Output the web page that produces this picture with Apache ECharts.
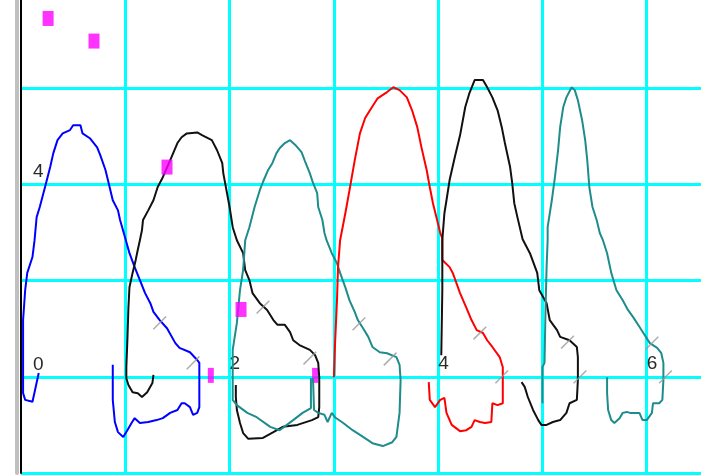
<!DOCTYPE html>
<html>
<head>
<meta charset="utf-8">
<style>
  html, body { margin: 0; padding: 0; background: #fff; }
  #chart { width: 701px; height: 476px; }
</style>
<script src="https://cdn.jsdelivr.net/npm/echarts@6/dist/echarts.min.js"></script>
</head>
<body>
<div id="chart"></div>
<script>
// curve traces, [x, y] in axis units (one loop per array)
const blueLoop = [[0.17,0.08],[0.13,-0.32],[0.11,-0.52],[0.04,-0.48],[0.02,-0.34],[0.02,0.76],[0.02,1.18],[0.04,1.80],[0.06,2.16],[0.11,2.49],[0.13,2.84],[0.15,3.32],[0.18,3.53],[0.23,3.94],[0.28,4.36],[0.31,4.65],[0.35,4.92],[0.40,5.06],[0.47,5.13],[0.50,5.23],[0.57,5.23],[0.59,5.06],[0.66,4.96],[0.73,4.77],[0.76,4.61],[0.81,4.30],[0.85,3.94],[0.88,3.67],[0.93,3.46],[0.95,3.26],[1.00,2.88],[1.04,2.57],[1.09,2.28],[1.14,2.01],[1.19,1.74],[1.24,1.53],[1.27,1.35],[1.33,1.18],[1.40,1.01],[1.48,0.70],[1.52,0.60],[1.62,0.51],[1.69,0.35],[1.71,0.29],[1.71,-0.63],[1.69,-0.75],[1.65,-0.79],[1.62,-0.63],[1.57,-0.55],[1.54,-0.55],[1.50,-0.69],[1.43,-0.75],[1.36,-0.86],[1.30,-0.90],[1.22,-0.94],[1.14,-0.96],[1.09,-0.86],[1.06,-0.96],[1.02,-1.11],[0.98,-1.25],[0.93,-1.15],[0.90,-0.94],[0.88,-0.48],[0.88,0.25]];

const blackLoop1 = [[1.27,0.04],[1.26,-0.13],[1.21,-0.32],[1.16,-0.42],[1.12,-0.34],[1.07,-0.32],[1.03,-0.17],[1.01,-0.03],[1.01,0.20],[1.02,0.76],[1.03,1.44],[1.04,1.86],[1.07,2.16],[1.10,2.43],[1.12,2.64],[1.14,2.84],[1.16,3.05],[1.17,3.26],[1.22,3.46],[1.27,3.67],[1.31,3.94],[1.36,4.15],[1.43,4.50],[1.50,4.86],[1.54,4.98],[1.59,5.06],[1.69,5.08],[1.74,5.02],[1.83,4.92],[1.88,4.71],[1.93,4.44],[1.94,4.23],[1.97,3.88],[2.00,3.53],[2.03,3.11],[2.07,2.84],[2.13,2.57],[2.15,2.22],[2.19,2.01],[2.22,1.74],[2.29,1.53],[2.36,1.39],[2.42,1.18],[2.46,1.08],[2.53,1.08],[2.58,0.93],[2.61,0.76],[2.67,0.66],[2.77,0.56],[2.82,0.45],[2.85,0.29],[2.86,-0.01],[2.86,-0.63],[2.85,-0.84],[2.79,-0.90],[2.65,-1.00],[2.51,-1.04],[2.42,-1.15],[2.32,-1.27],[2.18,-1.29],[2.13,-1.17],[2.10,-0.96],[2.07,-0.69],[2.06,-0.42],[2.06,-0.17]];

const tealLoop1 = [[2.78,-0.03],[2.78,-0.65],[2.70,-0.75],[2.61,-0.90],[2.48,-1.11],[2.39,-1.04],[2.26,-0.84],[2.17,-0.75],[2.07,-0.59],[2.03,-0.48],[2.03,0.56],[2.07,1.12],[2.10,1.80],[2.13,2.22],[2.15,2.84],[2.19,3.11],[2.24,3.53],[2.29,3.88],[2.32,4.05],[2.37,4.30],[2.41,4.44],[2.45,4.65],[2.48,4.75],[2.53,4.86],[2.58,4.92],[2.63,4.82],[2.69,4.67],[2.72,4.50],[2.77,4.23],[2.80,4.03],[2.84,3.82],[2.85,3.53],[2.89,3.26],[2.91,2.99],[2.93,2.84],[2.98,2.57],[3.03,2.36],[3.06,2.16],[3.11,1.86],[3.15,1.59],[3.20,1.35],[3.23,1.18],[3.28,1.01],[3.33,0.83],[3.37,0.62],[3.44,0.51],[3.51,0.49],[3.60,0.41],[3.63,0.25],[3.64,-0.07],[3.63,-0.75],[3.60,-1.25],[3.56,-1.36],[3.47,-1.44],[3.37,-1.38],[3.28,-1.25],[3.18,-1.11],[3.09,-0.96],[3.01,-0.84],[2.98,-0.75],[2.94,-0.94],[2.91,-0.79],[2.85,-0.75],[2.81,-0.69],[2.80,-0.03]];

const redLoop = [[3.91,-0.11],[3.92,-0.48],[3.97,-0.63],[4.02,-0.48],[4.06,-0.44],[4.08,-0.75],[4.13,-1.00],[4.21,-1.13],[4.27,-1.11],[4.32,-1.04],[4.35,-0.90],[4.40,-0.94],[4.45,-0.96],[4.51,-0.94],[4.52,-0.55],[4.57,-0.59],[4.62,-0.55],[4.62,0.20],[4.59,0.41],[4.52,0.62],[4.47,0.76],[4.43,0.91],[4.37,0.97],[4.32,1.18],[4.27,1.44],[4.21,1.74],[4.14,2.16],[4.11,2.28],[4.04,2.43],[4.04,2.88],[4.02,2.99],[3.99,3.26],[3.95,3.61],[3.92,3.94],[3.89,4.30],[3.84,4.77],[3.80,5.19],[3.75,5.54],[3.70,5.81],[3.63,5.96],[3.57,6.02],[3.51,5.92],[3.42,5.79],[3.36,5.59],[3.30,5.38],[3.25,5.06],[3.20,4.50],[3.15,3.88],[3.11,3.40],[3.06,2.84],[3.04,2.28],[3.03,1.59],[3.01,0.62],[3.00,-0.01]];

const blackLoop2 = [[4.03,0.45],[4.04,1.80],[4.04,2.84],[4.06,3.40],[4.08,3.67],[4.11,4.09],[4.16,4.57],[4.21,5.02],[4.26,5.61],[4.30,5.90],[4.35,6.17],[4.43,6.17],[4.47,6.02],[4.52,5.81],[4.57,5.54],[4.61,5.19],[4.64,4.86],[4.69,4.36],[4.71,4.03],[4.73,3.61],[4.76,3.32],[4.81,2.86],[4.88,2.57],[4.95,2.16],[4.97,1.80],[5.04,1.53],[5.07,1.18],[5.14,0.97],[5.17,0.83],[5.26,0.76],[5.33,0.62],[5.34,0.41],[5.34,-0.07],[5.33,-0.48],[5.26,-0.55],[5.23,-0.75],[5.17,-0.90],[5.10,-0.94],[5.04,-1.00],[4.99,-1.00],[4.96,-0.90],[4.91,-0.69],[4.86,-0.42],[4.83,-0.21],[4.80,-0.11]];

const tealLoop2 = [[5.00,-0.55],[5.00,0.20],[5.02,0.29],[5.03,1.44],[5.04,2.28],[5.05,2.84],[5.05,3.11],[5.09,3.67],[5.12,4.15],[5.15,4.71],[5.17,5.19],[5.20,5.61],[5.23,5.81],[5.28,6.02],[5.31,5.96],[5.34,5.75],[5.38,5.34],[5.41,4.92],[5.43,4.50],[5.45,3.94],[5.48,3.53],[5.52,3.26],[5.55,2.99],[5.58,2.84],[5.62,2.57],[5.66,2.16],[5.71,1.80],[5.77,1.59],[5.82,1.39],[5.87,1.24],[5.93,1.04],[5.98,0.87],[6.03,0.70],[6.10,0.60],[6.14,0.49],[6.16,0.29],[6.16,-0.07],[6.15,-0.48],[6.12,-0.55],[6.06,-0.55],[6.05,-0.75],[6.00,-0.90],[5.96,-0.90],[5.93,-0.75],[5.84,-0.75],[5.81,-0.73],[5.77,-0.75],[5.74,-0.86],[5.69,-0.96],[5.66,-0.90],[5.63,-0.69],[5.62,-0.34],[5.62,-0.01]];

// magenta markers
const magentaBoxes = [[0.26,7.45],[0.70,6.98],[1.40,4.36],[2.11,1.40]];
const magentaBars = [[1.82,0.03],[2.82,0.03]];

// grey slash marks on the falling side of each loop
const slashMarks = [[1.33,1.12],[1.65,0.29],[2.32,1.45],[2.77,0.39],[3.24,1.10],[3.54,0.37],[4.40,0.91],[4.61,0.0],[5.24,0.72],[5.36,0.0],[6.05,0.70],[6.18,0.0]];

// tick labels that are printed
const xTickLabels = [2, 4, 6];
const yTickLabels = [0, 4];

const loops = [
  { data: blueLoop, color: '#0000ff' },
  { data: blackLoop1, color: '#111111' },
  { data: tealLoop1, color: '#1f8c8c' },
  { data: redLoop, color: '#ff0000' },
  { data: blackLoop2, color: '#111111' },
  { data: tealLoop2, color: '#1f8c8c' },
];

const chart = echarts.init(document.getElementById('chart'));

const gridLine = { show: true, lineStyle: { color: '#00ffff', width: 3 } };
const labelFont = { fontFamily: 'Liberation Sans', fontSize: 19, color: '#2a2a2a' };

chart.setOption({
  animation: false,
  backgroundColor: '#fff',
  grid: { left: 21, right: -50, top: -8, bottom: 3, outerBoundsMode: 'none', containLabel: false },
  xAxis: {
    type: 'value',
    min: 0,
    max: 7,
    interval: 1,
    axisLine: { show: false },
    axisTick: { show: false },
    splitLine: { ...gridLine, showMinLine: false },
    // x labels sit just above the y = 0 grid line
    axisLabel: {
      ...labelFont,
      inside: true,
      margin: 100,
      align: 'left',
      formatter: (v) => (xTickLabels.includes(v) ? String(v) : ''),
    },
  },
  yAxis: [
    {
      type: 'value',
      min: -2,
      max: 8,
      interval: 2,
      axisLine: { show: true, lineStyle: { color: '#000', width: 2 } },
      axisTick: { show: false },
      splitLine: gridLine,
      axisLabel: {
        ...labelFont,
        inside: true,
        margin: 12,
        verticalAlign: 'bottom',
        padding: [0, 0, 3, 0],
        formatter: (v) => (yTickLabels.includes(v) ? String(v) : ''),
      },
    },
    {
      type: 'value',
      min: -2,
      max: 8,
      interval: 2,
      position: 'left',
      offset: 4,
      axisLine: { show: true, lineStyle: { color: '#c0c0c0', width: 4 } },
      axisTick: { show: false },
      axisLabel: { show: false },
      splitLine: { show: false },
    },
  ],
  series: [
    ...loops.map((l) => ({
      type: 'line',
      data: l.data,
      showSymbol: false,
      smooth: false,
      lineStyle: { color: l.color, width: 2 },
      z: 3,
    })),
    {
      type: 'scatter',
      data: slashMarks,
      symbol: 'rect',
      symbolSize: [1.5, 18],
      symbolRotate: -45,
      itemStyle: { color: '#999' },
      z: 4,
    },
    {
      type: 'scatter',
      data: magentaBoxes,
      symbol: 'rect',
      symbolSize: [11, 15],
      itemStyle: { color: '#ff00ff' },
      z: 5,
    },
    {
      type: 'scatter',
      data: magentaBars,
      symbol: 'rect',
      symbolSize: [6, 15],
      itemStyle: { color: '#ff00ff' },
      z: 2,
    },
  ],
});
</script>
</body>
</html>
